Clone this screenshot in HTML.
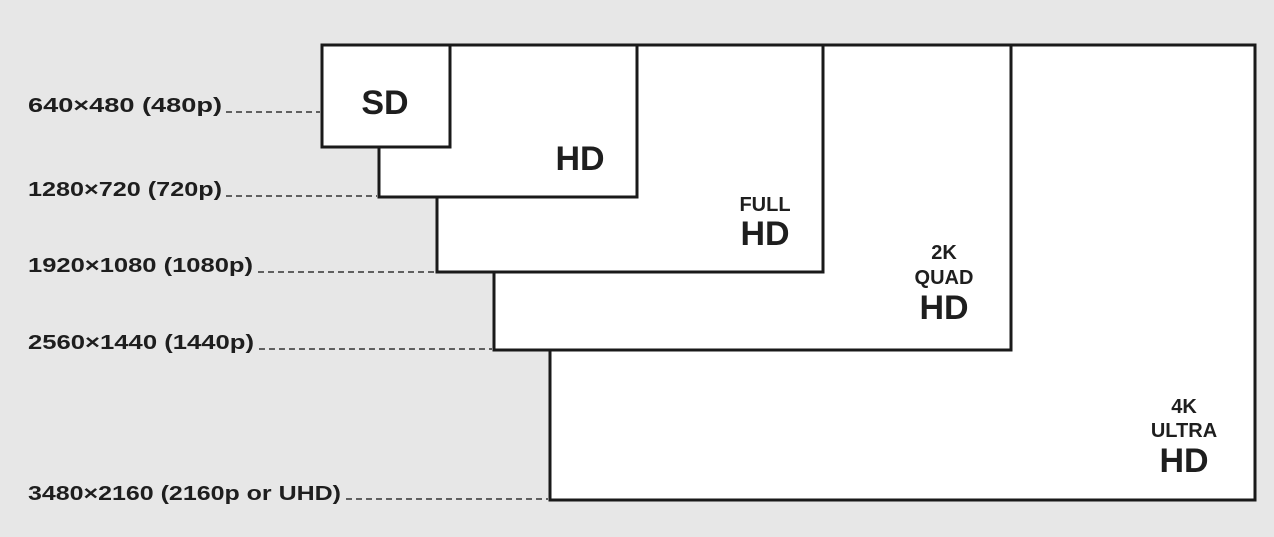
<!DOCTYPE html>
<html><head><style>
html,body{margin:0;padding:0;background:#e7e7e7;}
svg{display:block}
text{font-family:"Liberation Sans",sans-serif;font-weight:bold;fill:#1e1e1e}
</style></head><body>
<svg width="1274" height="537" viewBox="0 0 1274 537">
<rect width="1274" height="537" fill="#e7e7e7"/>
<polygon points="322,45 1255,45 1255,500 550,500 550,350 494,350 494,272 437,272 437,197 379,197 379,147 322,147" fill="#fff" stroke="#1a1a1a" stroke-width="3" stroke-linejoin="miter"/>
<g stroke="#1a1a1a" stroke-width="3" fill="none">
<polyline points="322,147 450,147 450,45"/>
<polyline points="379,197 637,197 637,45"/>
<polyline points="437,272 823,272 823,45"/>
<polyline points="494,350 1011,350 1011,45"/>
</g>
<g stroke="#333" stroke-width="1.6" stroke-dasharray="6,4">
<line x1="226" y1="112" x2="320" y2="112"/>
<line x1="226" y1="196" x2="377" y2="196"/>
<line x1="258" y1="272" x2="435" y2="272"/>
<line x1="259" y1="349" x2="492" y2="349"/>
<line x1="346" y1="499" x2="548" y2="499"/>
</g>
<g font-size="20.5" lengthAdjust="spacingAndGlyphs">
<text x="28" y="112" textLength="194" lengthAdjust="spacingAndGlyphs">640×480 (480p)</text>
<text x="28" y="196" textLength="194" lengthAdjust="spacingAndGlyphs">1280×720 (720p)</text>
<text x="28" y="272" textLength="225" lengthAdjust="spacingAndGlyphs">1920×1080 (1080p)</text>
<text x="28" y="349" textLength="226" lengthAdjust="spacingAndGlyphs">2560×1440 (1440p)</text>
<text x="28" y="500" textLength="313" lengthAdjust="spacingAndGlyphs">3480×2160 (2160p or UHD)</text>
</g>
<g text-anchor="middle">
<text x="385" y="114" font-size="34">SD</text>
<text x="580" y="170" font-size="34">HD</text>
<text x="765" y="211" font-size="20">FULL</text>
<text x="765" y="245" font-size="34">HD</text>
<text x="944" y="259" font-size="20">2K</text>
<text x="944" y="284" font-size="20">QUAD</text>
<text x="944" y="319" font-size="34">HD</text>
<text x="1184" y="413" font-size="20">4K</text>
<text x="1184" y="437" font-size="20">ULTRA</text>
<text x="1184" y="472" font-size="34">HD</text>
</g>
</svg>
</body></html>
